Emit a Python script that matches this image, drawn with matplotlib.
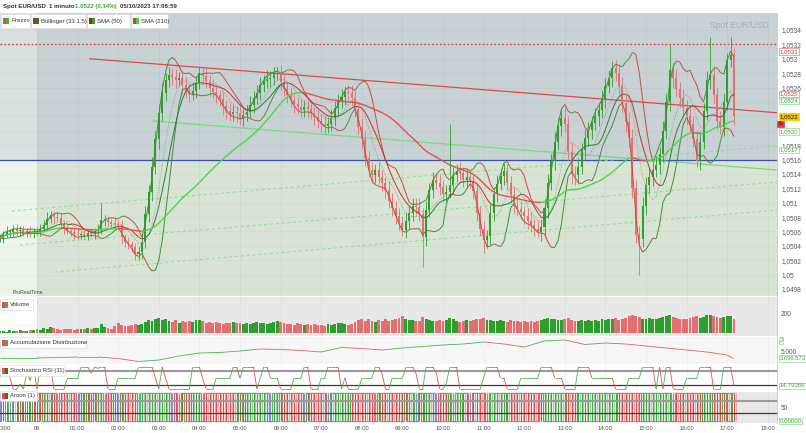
import numpy as np
import pandas as pd
import matplotlib
matplotlib.use("Agg")
import matplotlib.pyplot as plt
from matplotlib.collections import LineCollection
from matplotlib.patches import Rectangle
from matplotlib.ticker import FuncFormatter

plt.rcParams['font.family'] = ['Liberation Sans', 'DejaVu Sans']

# ---------------- data ----------------
BASE = 1.05            # prices stored in pips (0.0001) above 1.05
START_H = -11 / 12     # first 5-minute candle at 23:05 (hours from 00:00)
STEP_H = 1 / 12
OPEN0 = 5.0

close_pips = [
    5.1, 5.6, 5.9, 5.9, 6.3, 6.0, 6.2, 5.7, 6.1, 5.8,
    6.0, 5.9, 6.3, 6.9, 7.8, 8.3, 8.0, 7.9, 7.0, 6.4,
    6.1, 5.9, 5.7, 5.5, 5.6, 5.4, 5.8, 5.7, 6.0, 6.3,
    7.6, 7.6, 7.3, 7.1, 7.0, 6.9, 5.2, 4.6, 4.3, 3.8,
    2.9, 3.2, 4.6, 8.4, 11.5, 15.0, 18.8, 22.5, 25.3, 27.0,
    27.8, 27.4, 27.0, 27.3, 26.3, 25.6, 25.1, 25.5, 26.6, 28.0,
    27.6, 26.9, 26.0, 25.4, 24.9, 24.4, 23.4, 22.7, 22.3, 22.6,
    22.4, 21.8, 22.2, 22.6, 23.6, 24.6, 25.3, 26.4, 26.9, 27.2,
    27.3, 27.9, 28.0, 26.8, 25.8, 24.9, 24.2, 23.7, 23.3, 22.9,
    23.3, 23.0, 22.5, 21.9, 21.4, 21.0, 20.6, 20.9, 21.8, 23.2,
    24.1, 24.7, 25.4, 25.2, 24.6, 23.0, 20.5, 18.8, 16.2, 14.5,
    13.9, 14.5, 13.6, 12.8, 11.8, 10.3, 9.3, 8.1, 7.2, 6.2,
    7.4, 8.6, 9.6, 9.4, 8.4, 5.2, 9.0, 11.8, 13.2, 12.8,
    12.2, 11.2, 11.5, 12.5, 13.9, 14.4, 14.1, 13.2, 13.6, 13.0,
    11.6, 8.6, 6.3, 4.8, 5.3, 8.5, 11.2, 12.6, 13.7, 14.4,
    12.8, 11.0, 9.6, 9.1, 8.7, 8.2, 7.5, 6.9, 6.4, 5.9,
    6.6, 9.2, 12.8, 15.8, 18.4, 20.6, 21.8, 21.0, 17.0, 14.0,
    13.8, 15.0, 17.3, 19.0, 20.1, 21.1, 22.0, 22.9, 24.4, 26.2,
    27.3, 28.7, 28.0, 26.2, 23.8, 21.2, 19.0, 12.0, 5.5, 5.0,
    9.6, 12.5, 13.5, 14.5, 15.3, 16.8, 20.0, 24.0, 28.4, 27.3,
    25.8, 24.6, 23.1, 22.0, 21.0, 18.9, 15.8, 18.5, 22.8, 27.0,
    27.8, 25.0, 21.4, 20.5, 24.0, 29.8, 30.5, 22.0]

wick_up = [
    0.6, 0.5, 0.8, 0.4, 0.6, 0.7, 0.5, 0.6, 0.4, 0.7,
    0.5, 0.6, 0.8, 0.7, 0.9, 0.6, 0.5, 0.7, 0.6, 0.5,
    0.6, 0.4, 0.5, 0.6, 0.5, 0.7, 0.4, 0.6, 0.5, 0.8,
    2.3, 0.7, 0.6, 0.5, 0.8, 0.6, 0.7, 0.5, 0.6, 0.4,
    0.6, 0.8, 1.0, 1.2, 1.0, 1.3, 1.1, 1.2, 1.4, 1.0,
    1.0, 0.9, 1.2, 0.8, 1.0, 1.1, 0.9, 1.3, 1.0, 0.9,
    0.8, 1.1, 0.9, 1.2, 1.0, 0.8, 1.1, 0.9, 1.2, 1.0,
    0.9, 1.1, 0.8, 1.0, 1.2, 0.9, 1.1, 1.0, 0.8, 1.2,
    1.0, 0.9, 0.9, 1.1, 1.0, 0.8, 1.2, 0.9, 1.0, 1.1,
    0.9, 1.0, 1.2, 0.8, 1.0, 0.9, 1.1, 1.0, 1.2, 0.9,
    1.0, 1.1, 0.8, 1.0, 1.2, 0.9, 1.0, 1.3, 1.1, 1.0,
    1.2, 0.9, 1.1, 1.0, 0.8, 1.2, 1.0, 0.9, 1.1, 1.0,
    1.2, 0.9, 1.1, 1.0, 1.3, 0.9, 1.2, 1.0, 1.1, 0.9,
    1.2, 1.0, 0.9, 8.4, 1.1, 1.0, 1.2, 0.9, 1.1, 1.0,
    0.9, 1.2, 1.0, 1.1, 0.9, 1.3, 1.0, 1.2, 0.9, 1.1,
    1.0, 0.9, 1.2, 1.0, 1.1, 0.8, 1.0, 1.2, 0.9, 1.0,
    1.1, 1.3, 1.2, 1.0, 1.4, 1.1, 1.2, 1.4, 1.0, 1.3,
    1.1, 1.2, 1.0, 1.3, 1.1, 0.9, 1.2, 1.0, 1.3, 1.1,
    1.2, 1.0, 1.1, 1.3, 1.2, 1.0, 1.4, 1.2, 1.1, 1.3,
    1.2, 1.0, 1.3, 1.1, 1.2, 1.0, 1.4, 1.2, 3.5, 1.1,
    1.3, 1.0, 1.2, 1.1, 1.3, 1.0, 1.2, 1.4, 1.1, 1.3,
    5.2, 1.2, 1.1, 1.3, 1.2, 1.0, 2.5, 1.0]

wick_dn = [
    0.5, 0.7, 0.4, 0.6, 0.5, 0.6, 0.7, 0.4, 0.5, 0.6,
    0.7, 0.5, 0.6, 0.4, 0.7, 0.6, 0.8, 0.5, 0.6, 0.7,
    0.5, 0.6, 0.7, 0.5, 0.6, 0.4, 0.6, 0.5, 0.7, 0.5,
    0.6, 0.8, 0.5, 0.7, 0.6, 0.5, 0.9, 0.7, 0.8, 0.6,
    0.9, 0.8, 1.0, 0.9, 1.1, 1.2, 1.0, 1.3, 1.1, 1.2,
    0.9, 1.1, 1.0, 0.8, 1.2, 1.0, 1.1, 0.9, 1.0, 0.8,
    1.1, 1.0, 1.2, 0.9, 1.1, 1.0, 1.2, 1.1, 0.9, 1.0,
    1.2, 1.0, 1.1, 0.9, 1.0, 1.2, 0.9, 1.1, 1.0, 0.9,
    1.1, 1.0, 0.8, 1.2, 1.0, 1.1, 0.9, 1.2, 1.0, 1.1,
    1.0, 1.2, 0.9, 1.1, 1.0, 1.2, 1.1, 0.9, 1.0, 1.2,
    1.0, 0.9, 1.1, 1.0, 1.2, 1.1, 1.0, 1.2, 1.1, 1.0,
    1.2, 1.1, 1.0, 1.2, 1.1, 1.0, 1.2, 1.1, 1.0, 0.9,
    1.1, 1.0, 1.2, 1.1, 1.0, 4.1, 1.2, 1.0, 1.1, 0.9,
    1.2, 1.0, 1.1, 0.9, 1.2, 1.0, 1.1, 1.0, 1.2, 0.9,
    1.1, 1.2, 1.0, 1.8, 1.1, 1.2, 1.0, 1.1, 0.9, 1.2,
    1.0, 1.1, 1.2, 0.9, 1.0, 1.1, 1.2, 1.0, 1.1, 0.7,
    1.2, 1.1, 1.3, 1.0, 1.2, 1.1, 1.3, 1.2, 1.1, 1.4,
    1.3, 1.2, 1.0, 1.3, 1.1, 1.2, 1.0, 1.3, 1.1, 1.2,
    1.0, 1.2, 1.1, 1.3, 1.2, 1.4, 1.2, 1.3, 1.1, 5.0,
    1.2, 1.3, 1.1, 1.2, 1.0, 1.3, 1.2, 1.1, 1.3, 1.2,
    1.1, 1.3, 1.2, 1.0, 1.2, 1.1, 0.9, 1.2, 1.1, 1.3,
    1.2, 1.1, 1.3, 1.0, 1.2, 1.1, 1.0, 1.2]

volume = [
    20, 25, 15, 30, 22, 18, 28, 20, 25, 35, 30,
    40, 35, 50, 45, 60, 55, 40, 35, 45, 38, 42, 36,
    40, 45, 38, 50, 42, 55, 48, 90, 60, 50, 45, 70,
    110, 80, 75, 70, 85, 95, 80, 90, 120, 140, 130, 150,
    160, 140, 150, 130, 120, 140, 110, 125, 115, 130, 120, 135,
    140, 125, 110, 120, 100, 115, 105, 95, 110, 100, 120, 105,
    110, 95, 100, 90, 105, 115, 100, 110, 95, 105, 120, 130,
    115, 100, 90, 95, 85, 100, 90, 80, 95, 85, 90, 80,
    85, 75, 90, 80, 95, 110, 100, 90, 85, 95, 120, 140,
    150, 130, 145, 125, 120, 135, 130, 145, 125, 140, 150, 160,
    180, 150, 140, 135, 130, 125, 170, 145, 135, 130, 125, 140,
    130, 140, 155, 145, 125, 120, 130, 140, 125, 135, 150, 145,
    160, 140, 135, 130, 125, 140, 130, 120, 135, 125, 130, 120,
    125, 115, 130, 120, 125, 140, 150, 160, 150, 145, 140, 135,
    145, 155, 140, 130, 125, 140, 130, 135, 125, 140, 130, 145,
    140, 150, 145, 155, 140, 150, 160, 175, 185, 180, 165, 150,
    145, 155, 150, 145, 160, 170, 175, 185, 170, 160, 150, 145,
    150, 160, 165, 175, 160, 170, 185, 190, 175, 165, 160, 170,
    180, 175, 150]

# Accumulation / Distribution (millions), half-hour readings
ad_hours = [-0.917, -0.5, 0, 0.5, 1, 1.5, 2, 2.5, 3, 3.5, 4, 4.5, 5, 5.5, 6,
            6.5, 7, 7.5, 8, 8.5, 9, 9.5, 10, 10.5, 11, 11.5, 12, 12.5, 13,
            13.5, 14, 14.5, 15, 15.5, 16, 16.5, 17, 17.15]
ad_values = [3.8, 3.8, 3.8, 3.9, 4.0, 4.0, 3.7, 3.1, 3.4, 4.2, 4.8, 4.9, 5.2,
             5.6, 5.5, 5.3, 5.0, 5.9, 5.7, 5.4, 5.8, 6.1, 6.4, 6.6, 7.0, 6.6,
             6.0, 7.2, 7.4, 6.5, 6.8, 6.6, 6.2, 5.8, 5.4, 5.0, 4.4, 3.7]

# drawn objects (hours, price)
red_trend = ([1.30, 18.23], [1.05300, 1.05225])
green_trend = ([2.86, 18.23], [1.052135, 1.051454])
channel = [([-0.62, 18.23], [1.050884, 1.051788]),
           ([-0.42, 18.23], [1.050412, 1.051287]),
           ([0.44, 18.23], [1.050036, 1.050898])]
day_high = 1.053205
ref_level = 1.051593

price_ticks = [1.0498, 1.0500, 1.0502, 1.0504, 1.0506, 1.0508, 1.0510, 1.0512,
               1.0514, 1.0516, 1.0518, 1.0520, 1.0522, 1.0524, 1.0526, 1.0528,
               1.0530, 1.0532, 1.0534]
covered_ticks = [1.0520, 1.0522, 1.0524]   # hidden under the value markers
hour_ticks = list(range(0, 19))
hour_labels = ['06'] + ['%02d:00' % h for h in range(1, 19)]

# last-value markers on the price scale: (price, text, text colour, face, edge)
price_tags = [
    (1.05310, '1,0531', '#e03030', 'white', '#e88080'),
    (1.05241, '1,0524', '#3aa83a', 'white', '#9ad09a'),
    (1.05251, '1,0525', '#e03030', 'white', '#e88080'),
    (1.05199, '1,0520', '#3aa83a', 'white', '#9ad09a'),
    (1.05220, '1,0522', '#222222', '#f5c400', '#f5c400'),
    (1.05173, '1,0517', '#3aa83a', 'white', '#9ad09a'),
]

# ---------------- derived series ----------------
c = BASE + np.array(close_pips) / 1e4
o = np.concatenate([[BASE + OPEN0 / 1e4], c[:-1]])
hi = np.maximum(o, c) + np.array(wick_up) / 1e4
lo = np.minimum(o, c) - np.array(wick_dn) / 1e4
t = START_H + np.arange(len(c)) * STEP_H
vol = np.array(volume, dtype=float)

s = pd.Series(c)
bb_mid = s.rolling(7, min_periods=1).mean()
bb_sd = s.rolling(7, min_periods=2).std(ddof=0).fillna(0)
bb_up = bb_mid + 1.5 * bb_sd
bb_lo = bb_mid - 1.5 * bb_sd
sma50 = s.rolling(10, min_periods=1).mean()
sma210 = s.rolling(42, min_periods=1).mean()


def stoch_rsi(x, n):
    d = np.diff(x, prepend=x[0])
    g = pd.Series(np.clip(d, 0, None)).rolling(n, min_periods=1).mean()
    l = pd.Series(np.clip(-d, 0, None)).rolling(n, min_periods=1).mean()
    rsi = (100 * g / (g + l).replace(0, np.nan)).fillna(50)
    mn = rsi.rolling(n, min_periods=1).min()
    mx = rsi.rolling(n, min_periods=1).max()
    return (100 * (rsi - mn) / (mx - mn).replace(0, np.nan)).fillna(50).values


stoch = stoch_rsi(c, 3)
stoch[-1] = 14.79366
aroon_up = np.where(np.concatenate([[0], np.diff(hi)]) > 0, 100, 0)
aroon_dn = np.where(np.concatenate([[0], np.diff(lo)]) < 0, 100, 0)

# ---------------- figure ----------------
W, H = 806, 433
fig = plt.figure(figsize=(W / 100, H / 100), dpi=100)
fig.patch.set_facecolor('white')
XL = (-37 / 40.6, 740 / 40.6)
AX_R = 777


def add_ax(top, bottom):
    return fig.add_axes([0, 1 - bottom / H, AX_R / W, (bottom - top) / H])


ax = add_ax(13, 296)
axv = add_ax(297, 336)
axa = add_ax(337, 364)
axs = add_ax(365, 391)
axr = add_ax(392, 423)

UPC, DNC = '#2f9e2f', '#e37070'


def seg_line(a, x, y, up, dn, lw, ls='-', z=4):
    x = np.asarray(x, float)
    y = np.asarray(y, float)
    pts = np.column_stack([x, y])
    segs = np.stack([pts[:-1], pts[1:]], axis=1)
    cols = [up if b >= a_ else dn for a_, b in zip(y[:-1], y[1:])]
    a.add_collection(LineCollection(segs, colors=cols, linewidths=lw,
                                    linestyles=ls, zorder=z))


for a in (ax, axv, axa, axs, axr):
    a.set_xlim(*XL)
    for sp in a.spines.values():
        sp.set_visible(False)
    a.spines['right'].set_visible(True)
    a.spines['right'].set_color('#c8c8c8')
    a.spines['right'].set_linewidth(0.6)
    a.yaxis.tick_right()
    a.tick_params(axis='y', length=0, pad=3, labelsize=4.7, colors='#555555')
    a.tick_params(axis='x', length=0, labelbottom=False)
    for h in hour_ticks:
        a.axvline(h, color='black', alpha=0.05, lw=0.5, zorder=1)

# ---- main price panel ----
YL = (1.049703, 1.053636)
ax.set_ylim(*YL)
ax.fill_between([XL[0], XL[1]], ref_level, YL[1], color='#c8d2d4', zorder=0, lw=0)
ax.fill_between([XL[0], XL[1]], YL[0], ref_level, color='#d7e3d3', zorder=0, lw=0)
ax.fill_between([XL[0], 0], ref_level, YL[1], color='#d9e0e2', zorder=0.5, lw=0)
ax.fill_between([XL[0], 0], YL[0], ref_level, color='#edf5ea', zorder=0.5, lw=0)
for p in price_ticks:
    ax.axhline(p, color='black', alpha=0.04, lw=0.5, zorder=1)


def price_fmt(v, _):
    if any(abs(v - ct) < 1e-7 for ct in covered_ticks):
        return ''
    return ('%.4f' % v).rstrip('0').replace('.', ',')


ax.set_yticks(price_ticks)
ax.yaxis.set_major_formatter(FuncFormatter(price_fmt))

ax.axhline(day_high, color='#e03c3c', lw=1.0, ls=(0, (1.2, 1.6)), zorder=2)
ax.axhline(ref_level, color='#3a4fb0', lw=0.9, zorder=2)
ax.plot(*red_trend, color='#e04848', lw=0.9, zorder=2)
ax.plot(*green_trend, color='#7ed67e', lw=0.9, zorder=2)
for xs, ys in channel:
    ax.plot(xs, ys, color='#8fdc8f', lw=0.7, ls=(0, (3, 3)), zorder=2)

cols = [UPC if cc >= oo else DNC for oo, cc in zip(o, c)]
ax.vlines(t, lo, hi, colors=cols, lw=0.6, zorder=3)
ax.bar(t, np.maximum(np.abs(c - o), 0.000015), bottom=np.minimum(o, c),
       width=STEP_H * 0.6, color=cols, lw=0, zorder=3)

seg_line(ax, t, bb_up, '#3f8f3f', '#d04444', 0.7)
seg_line(ax, t, bb_lo, '#3f8f3f', '#d04444', 0.7)
seg_line(ax, t, bb_mid, '#6aa86a', '#d87070', 0.6, ls=':')
seg_line(ax, t, sma50, '#2f7a2f', '#b83434', 0.7)
seg_line(ax, t, sma210, '#4ad44a', '#e24c4c', 1.0)

ax.text(0.99, 0.955, 'Spot EUR/USD', transform=ax.transAxes, ha='right',
        va='center', fontsize=6.2, color='#9aa4a8', alpha=0.8, zorder=5)
ax.text(13 / AX_R, 1 - (292 - 13) / 283, 'ProRealTime', transform=ax.transAxes,
        fontsize=3.8, color='#444444', va='center', zorder=5)


def vbox(a, y, txt, tc, fc, ec, x=1.003, fs=4.4):
    a.text(x, y, txt, transform=a.get_yaxis_transform(), fontsize=fs,
           color=tc, va='center', ha='left', clip_on=False, zorder=30,
           bbox=dict(boxstyle='square,pad=0.12', fc=fc, ec=ec, lw=0.5))


for p, txt, tc, fc, ec in price_tags:
    vbox(ax, p, txt, tc, fc, ec)
vbox(ax, 1.052098, '7s', '#222222', '#e03a3a', '#e03a3a', x=1.001, fs=4.0)

# ---- volume ----
axv.set_facecolor('#e8e8e8')
axv.set_ylim(-32, 379)
axv.fill_between([XL[0], 0], -32, 379, color='white', zorder=0.5, lw=0)
axv.bar(t, vol, width=STEP_H * 0.85, color=cols, lw=0, zorder=3)
axv.set_yticks([200])
axv.set_yticklabels(['200'])
vbox(axv, -80, '2', '#3aa83a', 'white', '#9ad09a')

# ---- accumulation distribution ----
axa.set_facecolor('#f6f6f6')
axa.set_ylim(2.6, 8.0)
seg_line(axa, ad_hours, ad_values, '#4fb04f', '#e06060', 0.6)
axa.set_yticks([5.0])
axa.set_yticklabels(['5.000'])
vbox(axa, 3.6966, '3.696.573', '#3aa83a', 'white', '#9ad09a', fs=4.2)

# ---- stochastic RSI ----
axs.set_facecolor('white')
axs.set_ylim(-9.1, 109.1)
axs.axhline(80, color='#9a9a9a', lw=1.5, zorder=2)
axs.axhline(20, color='#3a3a3a', lw=0.9, zorder=2)
seg_line(axs, t, stoch, '#4fb04f', '#e05050', 0.6)
axs.set_yticks([])
vbox(axs, 14.79, '14.79366', '#3aa83a', 'white', '#9ad09a')

# ---- aroon ----
axr.set_facecolor('#e8e8e8')
axr.set_ylim(-7.1, 103.6)
axr.fill_between([XL[0], 0], -7.1, 103.6, color='white', zorder=0.5, lw=0)
state_cols = []
for u, d in zip(aroon_up, aroon_dn):
    if u and not d:
        state_cols.append('#3aa83a')
    elif d and not u:
        state_cols.append('#e04848')
    elif u and d:
        state_cols.append('#9a6a3a')
    else:
        state_cols.append('#8090d8')
axr.vlines(t, 0, 100, colors=state_cols, lw=0.7, zorder=3)
axr.vlines(t + STEP_H / 2, 0, 100, colors=state_cols, lw=0.4, alpha=0.7, zorder=3)
axr.step(t, aroon_dn, where='mid', color='#e04848', lw=0.5, zorder=3)
axr.step(t, aroon_up, where='mid', color='#3aa83a', lw=0.5, zorder=3)
axr.axhline(70, color='#9a9a9a', lw=1.5, zorder=4)
axr.axhline(30, color='#3a3a3a', lw=0.9, zorder=4)
axr.set_yticks([50])
axr.set_yticklabels(['50'])
vbox(axr, 0, '0.00000', '#3aa83a', 'white', '#9ad09a')
axr.set_xticks(hour_ticks)
axr.set_xticklabels(hour_labels)
axr.tick_params(axis='x', labelbottom=True, labelsize=4.2, colors='#555555', pad=2.5)
fig.text(0 / W, 1 - 428 / H, '3:00', fontsize=4.2, color='#555555', va='center')


# ---------------- header / labels ----------------
def P(x, y):
    return x / W, 1 - y / H


fig.text(*P(3, 6.5), 'Spot EUR/USD', fontsize=4.4, weight='bold', color='#333333', va='center')
fig.text(*P(49, 6.5), '1 minuto', fontsize=4.4, weight='bold', color='#333333', va='center')
fig.text(*P(75, 6.5), '1.0522 (0.14%)', fontsize=4.4, weight='bold', color='#3aa83a', va='center')
fig.text(*P(120, 6.5), '05/10/2023 17:08:59', fontsize=4.4, weight='bold', color='#333333', va='center')


def tag(x0, x1, y0, y1, text, c1, c2):
    fig.patches.append(Rectangle(P(x0, y1), (x1 - x0) / W, (y1 - y0) / H,
                                 transform=fig.transFigure, fc='white', ec='#d8d8d8',
                                 lw=0.4, zorder=20))
    ym = (y0 + y1) / 2
    fig.patches.append(Rectangle(P(x0 + 2, ym + 3), 3 / W, 6 / H, transform=fig.transFigure,
                                 fc=c1, ec='none', zorder=21))
    fig.patches.append(Rectangle(P(x0 + 5, ym + 3), 3 / W, 6 / H, transform=fig.transFigure,
                                 fc=c2, ec='none', zorder=21))
    fig.text(*P(x0 + 10, ym), text, fontsize=4.3, color='#333333', va='center', zorder=22)


tag(1, 30, 14, 28, 'Prezzo', '#e05050', '#40b040')
tag(31, 86, 14, 28, 'Bollinger (33 1.5)', '#a83030', '#2f7a2f')
tag(87, 130, 14, 28, 'SMA (50)', '#a02020', '#30a030')
tag(131, 168, 14, 28, 'SMA (210)', '#f03030', '#30e030')
tag(0, 33, 299, 310, 'Volume', '#e05050', '#40b040')
tag(0, 86, 337, 348, 'Accumulazione Distribuzione', '#e05050', '#40b040')
tag(0, 65, 365, 376, 'Stochastico RSI (11)', '#e05050', '#208020')
tag(0, 37, 391, 401, 'Aroon (1)', '#e05050', '#208020')

fig.savefig('out.png', dpi=100, facecolor='white')
